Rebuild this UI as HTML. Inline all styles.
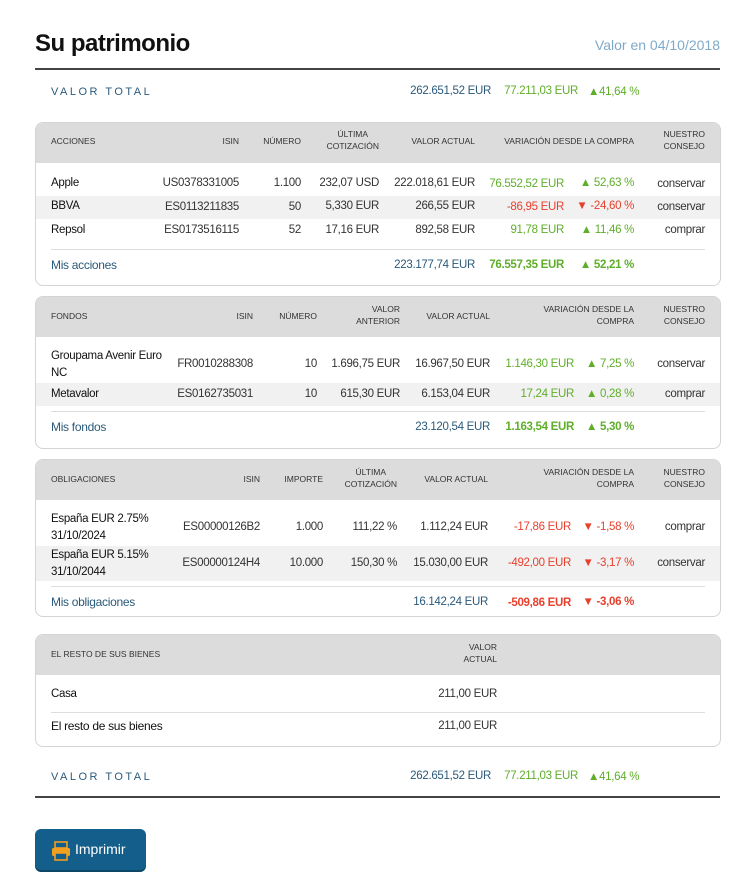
<!DOCTYPE html>
<html><head><meta charset="utf-8"><style>
body{margin:0;width:755px;height:894px;background:#fff;font-family:"Liberation Sans",sans-serif;position:relative;overflow:hidden;color:#333}
.t{position:absolute;white-space:nowrap;font-size:11.5px;line-height:14px;letter-spacing:-0.3px}
.r{transform:translateX(-100%);text-align:right}
.h{font-size:8.5px;line-height:12px;letter-spacing:0;color:#333}
.box{position:absolute;left:35px;width:684px;border:1px solid #d4d4d4;border-radius:8px;overflow:hidden;background:#fff}
.hd{position:absolute;left:0;top:0;width:100%;height:40px;background:#dcdcdc}
.alt{position:absolute;left:0;width:100%;background:#f1f1f1}
.dv{position:absolute;left:15px;width:654px;height:1px;background:#ddd}
.g{color:#5fae2a}.red{color:#e8402c}.b{color:#2a5a7a}
.bold{font-weight:bold}
.line{position:absolute;left:35px;width:685px;height:2px;background:#444}
</style></head><body>
<div class="t bold" style="left:35px;top:30px;font-size:24px;line-height:28px;letter-spacing:-0.5px;color:#111">Su patrimonio</div>
<div class="t r" style="left:720px;top:38px;font-size:14px;color:#7fa9c9;letter-spacing:0">Valor en 04/10/2018</div>
<div class="line" style="top:68px"></div>
<div class="t b" style="left:51px;top:85px;font-size:11px;letter-spacing:2.5px">VALOR TOTAL</div>
<div class="t r b" style="left:491px;top:84px">262.651,52 EUR</div>
<div class="t r g" style="left:578px;top:84px">77.211,03 EUR</div>
<div class="t g" style="left:588px;top:85px">▲41,64 %</div>

<!-- Box 1 -->
<div class="box" style="top:122px;height:162px">
<div class="hd"></div>
<div class="alt" style="top:73px;height:23px"></div>
<div class="dv" style="top:126px"></div>
</div>
<div class="t h" style="left:51px;top:135px">ACCIONES</div>
<div class="t h r" style="left:239px;top:135px">ISIN</div>
<div class="t h r" style="left:301px;top:135px">NÚMERO</div>
<div class="t h r" style="left:379px;top:128px;text-align:center">ÚLTIMA<br>COTIZACIÓN</div>
<div class="t h r" style="left:475px;top:135px">VALOR ACTUAL</div>
<div class="t h r" style="left:634px;top:135px">VARIACIÓN DESDE LA COMPRA</div>
<div class="t h r" style="left:705px;top:128px;text-align:center">NUESTRO<br>CONSEJO</div>

<div class="t" style="left:51px;top:176px;color:#111">Apple</div>
<div class="t r" style="left:239px;top:176px">US0378331005</div>
<div class="t r" style="left:301px;top:176px">1.100</div>
<div class="t r" style="left:379px;top:176px">232,07 USD</div>
<div class="t r" style="left:475px;top:176px">222.018,61 EUR</div>
<div class="t r g" style="left:564px;top:177px">76.552,52 EUR</div>
<div class="t r g" style="left:634px;top:176px">▲ 52,63 %</div>
<div class="t r" style="left:705px;top:177px">conservar</div>

<div class="t" style="left:51px;top:199px;color:#111">BBVA</div>
<div class="t r" style="left:239px;top:200px">ES0113211835</div>
<div class="t r" style="left:301px;top:200px">50</div>
<div class="t r" style="left:379px;top:199px">5,330 EUR</div>
<div class="t r" style="left:475px;top:199px">266,55 EUR</div>
<div class="t r red" style="left:564px;top:200px">-86,95 EUR</div>
<div class="t r red" style="left:634px;top:199px">▼ -24,60 %</div>
<div class="t r" style="left:705px;top:200px">conservar</div>

<div class="t" style="left:51px;top:223px;color:#111">Repsol</div>
<div class="t r" style="left:239px;top:223px">ES0173516115</div>
<div class="t r" style="left:301px;top:223px">52</div>
<div class="t r" style="left:379px;top:223px">17,16 EUR</div>
<div class="t r" style="left:475px;top:223px">892,58 EUR</div>
<div class="t r g" style="left:564px;top:223px">91,78 EUR</div>
<div class="t r g" style="left:634px;top:223px">▲ 11,46 %</div>
<div class="t r" style="left:705px;top:223px">comprar</div>

<div class="t b" style="left:51px;top:258px;font-size:12px">Mis acciones</div>
<div class="t r b" style="left:475px;top:258px">223.177,74 EUR</div>
<div class="t r g bold" style="left:564px;top:258px">76.557,35 EUR</div>
<div class="t r g bold" style="left:634px;top:258px">▲ 52,21 %</div>

<!-- Box 2 -->
<div class="box" style="top:296px;height:151px">
<div class="hd"></div>
<div class="alt" style="top:86px;height:23px"></div>
<div class="dv" style="top:114px"></div>
</div>
<div class="t h" style="left:51px;top:310px">FONDOS</div>
<div class="t h r" style="left:253px;top:310px">ISIN</div>
<div class="t h r" style="left:317px;top:310px">NÚMERO</div>
<div class="t h r" style="left:400px;top:303px;text-align:right">VALOR<br>ANTERIOR</div>
<div class="t h r" style="left:490px;top:310px">VALOR ACTUAL</div>
<div class="t h r" style="left:634px;top:303px;text-align:right">VARIACIÓN DESDE LA<br>COMPRA</div>
<div class="t h r" style="left:705px;top:303px;text-align:right">NUESTRO<br>CONSEJO</div>

<div class="t" style="left:51px;top:348px;color:#111;line-height:17px">Groupama Avenir Euro<br>NC</div>
<div class="t r" style="left:253px;top:357px">FR0010288308</div>
<div class="t r" style="left:317px;top:357px">10</div>
<div class="t r" style="left:400px;top:357px">1.696,75 EUR</div>
<div class="t r" style="left:490px;top:357px">16.967,50 EUR</div>
<div class="t r g" style="left:574px;top:357px">1.146,30 EUR</div>
<div class="t r g" style="left:634px;top:357px">▲ 7,25 %</div>
<div class="t r" style="left:705px;top:357px">conservar</div>

<div class="t" style="left:51px;top:387px;color:#111">Metavalor</div>
<div class="t r" style="left:253px;top:387px">ES0162735031</div>
<div class="t r" style="left:317px;top:387px">10</div>
<div class="t r" style="left:400px;top:387px">615,30 EUR</div>
<div class="t r" style="left:490px;top:387px">6.153,04 EUR</div>
<div class="t r g" style="left:574px;top:387px">17,24 EUR</div>
<div class="t r g" style="left:634px;top:387px">▲ 0,28 %</div>
<div class="t r" style="left:705px;top:387px">comprar</div>

<div class="t b" style="left:51px;top:420px;font-size:12px">Mis fondos</div>
<div class="t r b" style="left:490px;top:420px">23.120,54 EUR</div>
<div class="t r g bold" style="left:574px;top:420px">1.163,54 EUR</div>
<div class="t r g bold" style="left:634px;top:420px">▲ 5,30 %</div>

<!-- Box 3 -->
<div class="box" style="top:459px;height:156px">
<div class="hd"></div>
<div class="alt" style="top:86px;height:35px"></div>
<div class="dv" style="top:126px"></div>
</div>
<div class="t h" style="left:51px;top:473px">OBLIGACIONES</div>
<div class="t h r" style="left:260px;top:473px">ISIN</div>
<div class="t h r" style="left:323px;top:473px">IMPORTE</div>
<div class="t h r" style="left:397px;top:466px;text-align:center">ÚLTIMA<br>COTIZACIÓN</div>
<div class="t h r" style="left:488px;top:473px">VALOR ACTUAL</div>
<div class="t h r" style="left:634px;top:466px;text-align:right">VARIACIÓN DESDE LA<br>COMPRA</div>
<div class="t h r" style="left:705px;top:466px;text-align:right">NUESTRO<br>CONSEJO</div>

<div class="t" style="left:51px;top:511px;color:#111;line-height:17px">España EUR 2.75%<br>31/10/2024</div>
<div class="t r" style="left:260px;top:520px">ES00000126B2</div>
<div class="t r" style="left:323px;top:520px">1.000</div>
<div class="t r" style="left:397px;top:520px">111,22 %</div>
<div class="t r" style="left:488px;top:520px">1.112,24 EUR</div>
<div class="t r red" style="left:571px;top:520px">-17,86 EUR</div>
<div class="t r red" style="left:634px;top:520px">▼ -1,58 %</div>
<div class="t r" style="left:705px;top:520px">comprar</div>

<div class="t" style="left:51px;top:547px;color:#111;line-height:17px">España EUR 5.15%<br>31/10/2044</div>
<div class="t r" style="left:260px;top:556px">ES00000124H4</div>
<div class="t r" style="left:323px;top:556px">10.000</div>
<div class="t r" style="left:397px;top:556px">150,30 %</div>
<div class="t r" style="left:488px;top:556px">15.030,00 EUR</div>
<div class="t r red" style="left:571px;top:556px">-492,00 EUR</div>
<div class="t r red" style="left:634px;top:556px">▼ -3,17 %</div>
<div class="t r" style="left:705px;top:556px">conservar</div>

<div class="t b" style="left:51px;top:595px;font-size:12px">Mis obligaciones</div>
<div class="t r b" style="left:488px;top:595px">16.142,24 EUR</div>
<div class="t r red bold" style="left:571px;top:596px">-509,86 EUR</div>
<div class="t r red bold" style="left:634px;top:595px">▼ -3,06 %</div>

<!-- Box 4 -->
<div class="box" style="top:634px;height:111px">
<div class="hd"></div>
<div class="dv" style="top:77px"></div>
</div>
<div class="t h" style="left:51px;top:648px">EL RESTO DE SUS BIENES</div>
<div class="t h r" style="left:497px;top:641px;text-align:right">VALOR<br>ACTUAL</div>
<div class="t" style="left:51px;top:687px;color:#111">Casa</div>
<div class="t r" style="left:497px;top:687px">211,00 EUR</div>
<div class="t" style="left:51px;top:719px;color:#111;font-size:12px">El resto de sus bienes</div>
<div class="t r" style="left:497px;top:719px">211,00 EUR</div>

<div class="t b" style="left:51px;top:770px;font-size:11px;letter-spacing:2.5px">VALOR TOTAL</div>
<div class="t r b" style="left:491px;top:769px">262.651,52 EUR</div>
<div class="t r g" style="left:578px;top:769px">77.211,03 EUR</div>
<div class="t g" style="left:588px;top:770px">▲41,64 %</div>
<div class="line" style="top:796px"></div>

<div style="position:absolute;left:35px;top:829px;width:111px;height:41px;background:#135e8a;border-radius:6px;box-shadow:0 2px 0 #0c4666"></div>
<svg style="position:absolute;left:50px;top:840px" width="22" height="22" viewBox="0 0 22 22"><rect x="5" y="2" width="12" height="6" fill="none" stroke="#f0a020" stroke-width="1.6"/><rect x="2" y="8" width="18" height="8" rx="1.5" fill="#f0a020"/><rect x="5" y="13" width="12" height="7" fill="#135e8a" stroke="#f0a020" stroke-width="1.6"/></svg>
<div class="t" style="left:75px;top:842px;color:#fff;font-size:14px;letter-spacing:0">Imprimir</div>
</body></html>
